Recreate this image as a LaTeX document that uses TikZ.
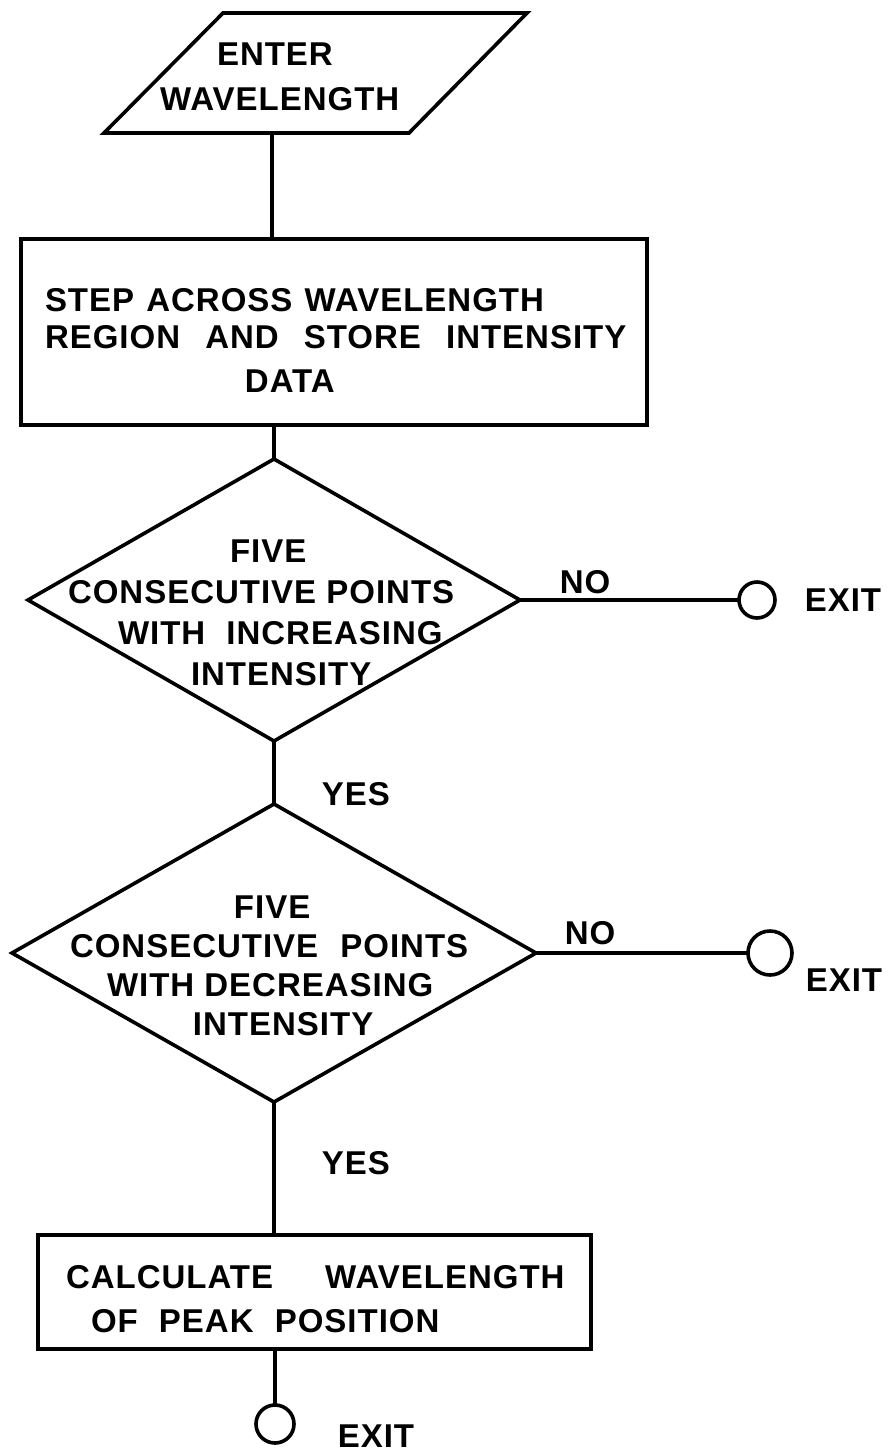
\documentclass[tikz,border=0pt]{standalone}
\usepackage{fontspec}
\setmainfont{Liberation Sans}[LetterSpace=3]
\usetikzlibrary{shapes.geometric}
\begin{document}
\begin{tikzpicture}[x=1pt,y=-1pt,line width=3.6pt,
  shapebox/.style={draw,rectangle,inner sep=0pt,outer sep=0pt},
  decision/.style={draw,diamond,inner sep=0pt,outer sep=0pt},
  terminal/.style={draw,circle,inner sep=0pt,outer sep=0pt},
  txt/.style={inner sep=0pt,outer sep=0pt,align=left,anchor=north west},
  lbl/.style={inner sep=0pt,outer sep=0pt,font=\fontsize{33}{36}\selectfont\bfseries}]
\useasboundingbox (0,0) rectangle (895,1454);
% input parallelogram
\coordinate (pbl) at (104,133);
\coordinate (pbr) at (409,133);
\coordinate (ptr) at (527,13);
\coordinate (ptl) at (223,13);
\draw (pbl) -- (pbr) -- (ptr) -- (ptl) -- cycle;
% shapes
\node[shapebox,minimum width=626pt,minimum height=186pt] (r1) at (334,332) {};
\node[decision,minimum width=492pt,minimum height=282pt] (d1) at (274,600) {};
\node[decision,minimum width=524pt,minimum height=298pt] (d2) at (274,953) {};
\node[shapebox,minimum width=553pt,minimum height=114pt] (r2) at (314.5,1292) {};
\node[terminal,minimum size=36pt] (c1) at (757,600) {};
\node[terminal,minimum size=44pt] (c2) at (770,953) {};
\node[terminal,minimum size=38pt] (c3) at (275,1424) {};
% texts
\node[txt,font=\fontsize{33}{45}\selectfont\bfseries] (parat) at (160,43)
  {\hspace*{57pt}ENTER\\WAVELENGTH};
\node[txt,font=\fontsize{33}{37}\selectfont\bfseries] (r1t) at (45,288)
  {STEP\hspace{2pt} ACROSS\hspace{2pt} WAVELENGTH\\REGION\hspace{15pt} AND\hspace{15pt} STORE\hspace{15pt} INTENSITY\\[7pt]\hspace*{200pt}DATA};
\node[txt,font=\fontsize{33}{41}\selectfont\bfseries] (d1t) at (68,540)
  {\hspace*{162pt}FIVE\\CONSECUTIVE POINTS\\\hspace*{50pt}WITH\hspace{11pt} INCREASING\\\hspace*{123pt}INTENSITY};
\node[txt,font=\fontsize{33}{39}\selectfont\bfseries] (d2t) at (70,896)
  {\hspace*{164pt}FIVE\\CONSECUTIVE\hspace{12pt} POINTS\\\hspace*{37pt}WITH DECREASING\\\hspace*{123pt}INTENSITY};
\node[txt,font=\fontsize{33}{44}\selectfont\bfseries] (r2t) at (66,1265)
  {CALCULATE\hspace{42pt} WAVELENGTH\\\hspace*{25pt}OF\hspace{11pt} PEAK\hspace{11pt} POSITION};
% connector labels
\node[lbl] (no1) at (585,582) {NO};
\node[lbl] (no2) at (590,933) {NO};
\node[lbl] (yes1) at (356,794) {YES};
\node[lbl] (yes2) at (356,1163) {YES};
\node[lbl] (exit1) at (843,600) {EXIT};
\node[lbl] (exit2) at (844,980) {EXIT};
\node[lbl] (exit3) at (376,1436) {EXIT};
% connectors
\path (pbl) -- (pbr) coordinate[pos=0.55] (pb);
\draw (pb) -- (r1.north -| pb);
\draw (r1.south -| d1.north) -- (d1.north);
\draw (d1.east) -- (c1.west);
\draw (d1.south) -- (d2.north);
\draw (d2.east) -- (c2.west);
\draw (d2.south) -- (r2.north -| d2.south);
\draw (r2.south -| c3.north) -- (c3.north);
\end{tikzpicture}
\end{document}
